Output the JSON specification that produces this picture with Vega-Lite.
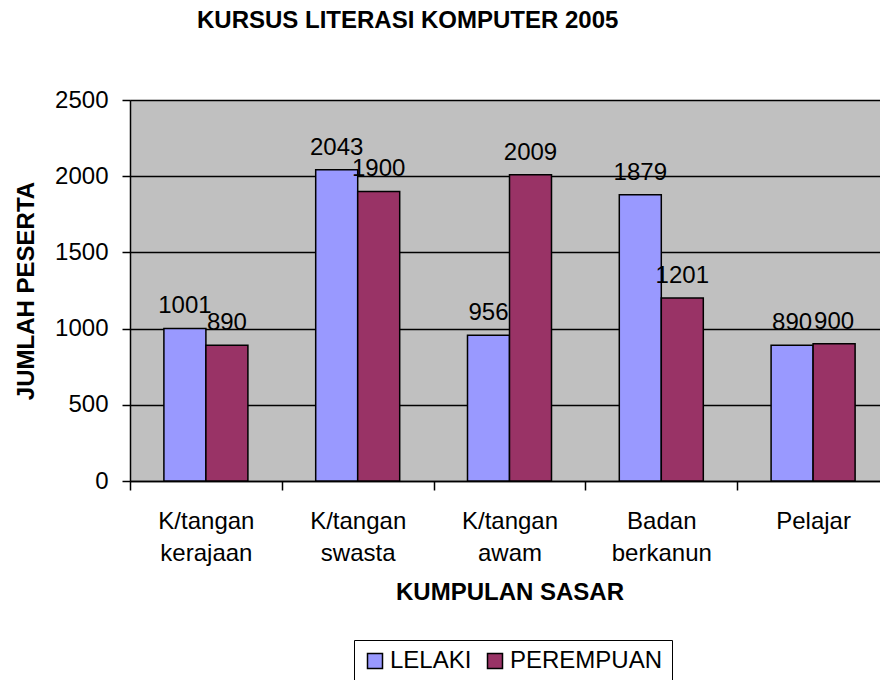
{
  "$schema": "https://vega.github.io/schema/vega-lite/v6.json",
  "width": 759,
  "height": 381,
  "autosize": {"type": "none"},
  "padding": {"left": 130, "top": 100, "right": -9, "bottom": 199},
  "background": "white",
  "title": {
    "text": "KURSUS LITERASI KOMPUTER 2005",
    "anchor": "start",
    "frame": "group",
    "dx": 67,
    "offset": 55,
    "fontSize": 24,
    "font": "Liberation Sans",
    "fontWeight": "bold",
    "color": "black"
  },
  "data": {
    "values": [
      {"kumpulan": "K/tangan kerajaan", "jantina": "LELAKI", "peserta": 1001},
      {"kumpulan": "K/tangan kerajaan", "jantina": "PEREMPUAN", "peserta": 890},
      {"kumpulan": "K/tangan swasta", "jantina": "LELAKI", "peserta": 2043},
      {"kumpulan": "K/tangan swasta", "jantina": "PEREMPUAN", "peserta": 1900},
      {"kumpulan": "K/tangan awam", "jantina": "LELAKI", "peserta": 956},
      {"kumpulan": "K/tangan awam", "jantina": "PEREMPUAN", "peserta": 2009},
      {"kumpulan": "Badan berkanun", "jantina": "LELAKI", "peserta": 1879},
      {"kumpulan": "Badan berkanun", "jantina": "PEREMPUAN", "peserta": 1201},
      {"kumpulan": "Pelajar", "jantina": "LELAKI", "peserta": 890},
      {"kumpulan": "Pelajar", "jantina": "PEREMPUAN", "peserta": 900}
    ]
  },
  "encoding": {
    "x": {
      "field": "kumpulan",
      "type": "nominal",
      "sort": null,
      "title": "KUMPULAN SASAR",
      "scale": {"paddingInner": 0, "paddingOuter": 0},
      "axis": {
        "tickBand": "extent",
        "tickSize": 9,
        "tickWidth": 1.5,
        "tickColor": "black",
        "domainColor": "black",
        "domainWidth": 1.5,
        "labelAngle": 0,
        "labelExpr": "split(datum.label, ' ')",
        "labelPadding": 19,
        "labelLineHeight": 32,
        "labelFontSize": 24,
        "labelFont": "Liberation Sans",
        "labelColor": "black",
        "titleFontSize": 24,
        "titleFont": "Liberation Sans",
        "titleFontWeight": "bold",
        "titleColor": "black",
        "titlePadding": 15,
        "grid": false
      }
    },
    "xOffset": {
      "field": "jantina",
      "type": "nominal",
      "sort": ["LELAKI", "PEREMPUAN"],
      "scale": {"paddingInner": 0, "paddingOuter": 0.807}
    },
    "y": {
      "field": "peserta",
      "type": "quantitative",
      "title": "JUMLAH PESERTA",
      "scale": {"domain": [0, 2500], "nice": false},
      "axis": {
        "values": [0, 500, 1000, 1500, 2000, 2500],
        "format": "d",
        "tickSize": 8,
        "tickWidth": 1.5,
        "tickColor": "black",
        "domainColor": "black",
        "domainWidth": 1.5,
        "gridColor": "black",
        "gridWidth": 1.3,
        "gridOpacity": 1,
        "labelFontSize": 24,
        "labelFont": "Liberation Sans",
        "labelColor": "black",
        "labelPadding": 14,
        "titleFontSize": 24,
        "titleFont": "Liberation Sans",
        "titleFontWeight": "bold",
        "titleColor": "black",
        "titlePadding": 16
      }
    }
  },
  "layer": [
    {
      "mark": {"type": "bar", "stroke": "black", "strokeWidth": 1.5},
      "encoding": {
        "color": {
          "field": "jantina",
          "type": "nominal",
          "scale": {"domain": ["LELAKI", "PEREMPUAN"], "range": ["#9999FF", "#993366"]},
          "legend": {
            "orient": "none",
            "legendX": 224,
            "legendY": 540,
            "direction": "horizontal",
            "title": null,
            "strokeColor": "black",
            "padding": 9,
            "symbolType": "square",
            "symbolSize": 225,
            "symbolStrokeColor": "black",
            "symbolStrokeWidth": 1.5,
            "symbolOpacity": 1,
            "labelFontSize": 24,
            "labelFont": "Liberation Sans",
            "labelColor": "black",
            "labelOffset": 3,
            "columnPadding": 11
          }
        }
      }
    },
    {
      "mark": {"type": "text", "baseline": "alphabetic", "dy": -15, "fontSize": 24, "font": "Liberation Sans", "color": "black"},
      "encoding": {
        "text": {"field": "peserta", "type": "quantitative", "format": "d"}
      }
    }
  ],
  "config": {
    "view": {"fill": "#C0C0C0", "stroke": "#808080"}
  }
}
